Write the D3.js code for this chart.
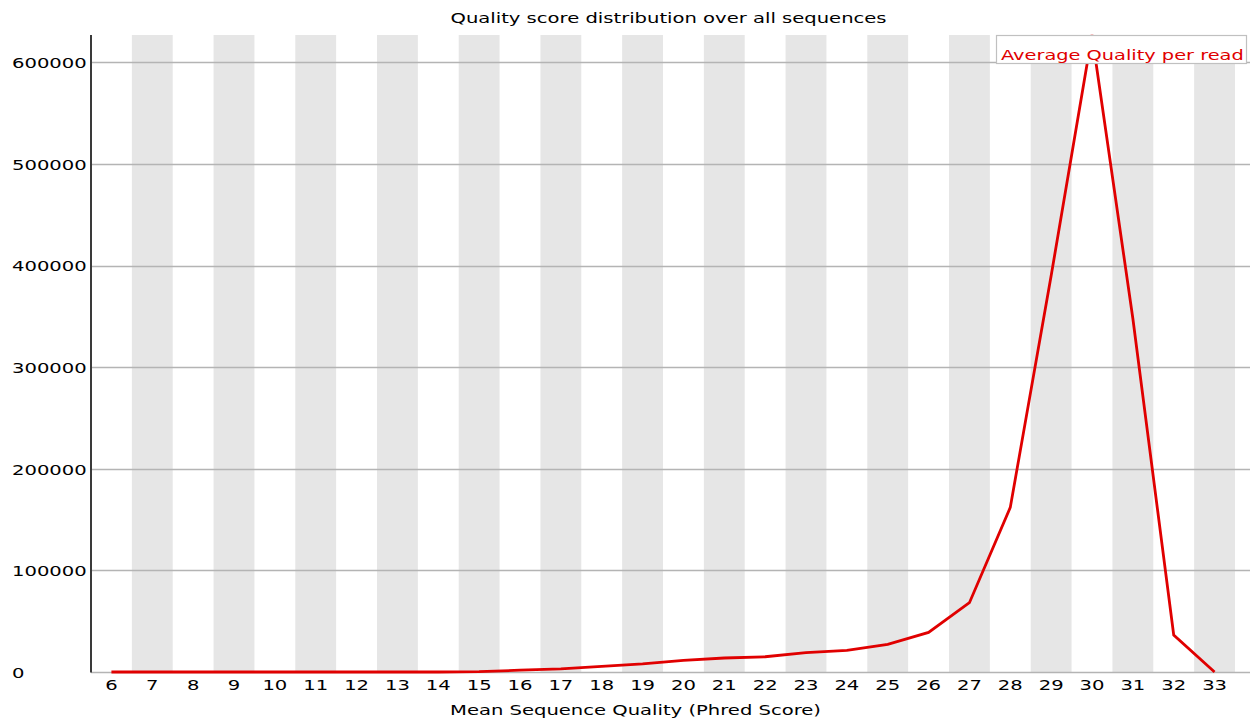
<!DOCTYPE html>
<html>
<head>
<meta charset="utf-8">
<script src="https://cdn.jsdelivr.net/npm/d3@7/dist/d3.min.js"></script>
<style>
html,body{margin:0;padding:0;background:#fff;}
svg{display:block;}
text{font-family:"DejaVu Sans",sans-serif;}
</style>
</head>
<body>
<svg id="chart" width="1253" height="718"></svg>
<script>
const categories = ["6","7","8","9","10","11","12","13","14","15","16","17","18","19","20","21","22","23","24","25","26","27","28","29","30","31","32","33"];
const avgQualityPerRead = [0,0,0,0,0,0,0,0,0,300,1800,3000,5500,8000,11500,13800,15000,19000,21300,27200,39000,68200,162000,390000,627000,348000,36400,0];
const yTicks = [0,100000,200000,300000,400000,500000,600000];
const seriesName = "Average Quality per read";
const chartTitle = "Quality score distribution over all sequences";
const xTitle = "Mean Sequence Quality (Phred Score)";

(function(){
const plotLeft = 91, bandRight = 1235, axisRight = 1250, plotTop = 35, plotBottom = 672;
const SX = 1.36, FS = 14.4;

const svg = d3.select("#chart");
const x = d3.scaleBand().domain(categories).range([plotLeft, bandRight]).padding(0);
const y = d3.scaleLinear().domain([0, d3.max(avgQualityPerRead)]).range([plotBottom, plotTop]);

// alternating bands
svg.append("g").selectAll("rect")
  .data(categories.filter((d,i)=>i%2===1))
  .join("rect")
  .attr("x", d=>x(d)).attr("y", plotTop)
  .attr("width", x.bandwidth()).attr("height", plotBottom-plotTop)
  .attr("fill", "#e6e6e6");

// horizontal grid lines
svg.append("g").selectAll("line")
  .data(yTicks)
  .join("line")
  .attr("x1", plotLeft).attr("x2", axisRight)
  .attr("y1", d=>Math.round(y(d))+0.5).attr("y2", d=>Math.round(y(d))+0.5)
  .attr("stroke", "#b4b4b4").attr("stroke-width", 1.3);

// y axis (labels left aligned)
const yAxis = svg.append("g").attr("transform", `translate(${plotLeft},0)`)
  .call(d3.axisLeft(y).tickValues(yTicks).tickFormat(d3.format("d")).tickSize(0));
yAxis.select(".domain").remove();
yAxis.selectAll("text")
  .attr("x", 0).attr("dy", 0)
  .attr("text-anchor", "start")
  .attr("fill", "#000")
  .style("font-size", FS+"px")
  .style("font-family", '"DejaVu Sans",sans-serif')
  .attr("transform", `translate(${12-plotLeft},${5.3}) scale(${SX},1)`);

// x axis labels
const xAxis = svg.append("g").attr("transform", `translate(0,${plotBottom})`)
  .call(d3.axisBottom(x).tickSize(0));
xAxis.select(".domain").remove();
xAxis.selectAll("text")
  .attr("y", 0).attr("dy", 0)
  .attr("text-anchor", "middle")
  .attr("fill", "#000")
  .style("font-size", FS+"px")
  .style("font-family", '"DejaVu Sans",sans-serif')
  .attr("transform", `translate(0,${689.5-plotBottom}) scale(${SX},1)`);

// left axis line
svg.append("line")
  .attr("x1", plotLeft).attr("x2", plotLeft).attr("y1", plotTop).attr("y2", plotBottom+0.5)
  .attr("stroke", "#3a3a3a").attr("stroke-width", 2);

// data line
const line = d3.line()
  .x((d,i)=>x(categories[i]) + x.bandwidth()/2)
  .y(d=>y(d));
svg.append("path")
  .datum(avgQualityPerRead)
  .attr("d", line)
  .attr("fill", "none")
  .attr("stroke", "#e00000")
  .attr("stroke-width", 2.8)
  .attr("stroke-linejoin", "miter");

// legend
svg.append("rect")
  .attr("x", 996.5).attr("y", 35.5).attr("width", 250).attr("height", 28)
  .attr("fill", "#fff").attr("stroke", "#c0c0c0").attr("stroke-width", 1.2);
svg.append("text")
  .attr("transform", `translate(1001,59.5) scale(1.345,1)`)
  .attr("fill", "#e00000")
  .style("font-size", FS+"px")
  .text(seriesName);

// title
svg.append("text")
  .attr("transform", `translate(668.5,23) scale(${SX},1)`)
  .attr("text-anchor", "middle")
  .attr("fill", "#000")
  .style("font-size", FS+"px")
  .text(chartTitle);

// x axis title
svg.append("text")
  .attr("transform", `translate(635.5,715) scale(${SX},1)`)
  .attr("text-anchor", "middle")
  .attr("fill", "#000")
  .style("font-size", FS+"px")
  .text(xTitle);
})();
</script>
</body>
</html>
